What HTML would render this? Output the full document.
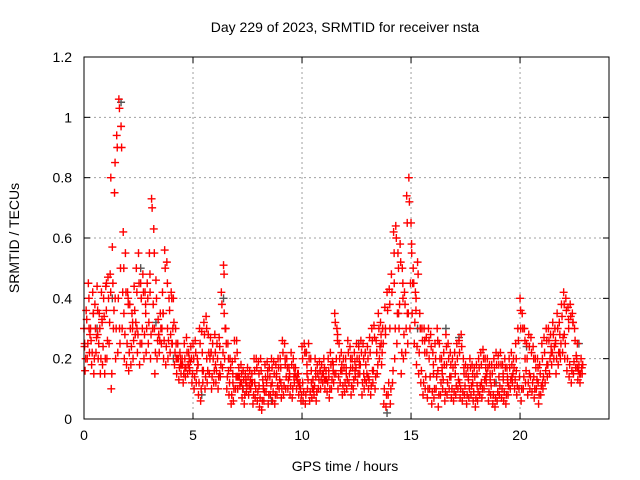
<!DOCTYPE html>
<html><head><meta charset="utf-8"><style>
body{margin:0;background:#fff;}
svg{display:block;font-family:"Liberation Sans",sans-serif;}
</style></head><body>
<svg id="chart" width="640" height="480">
<text x="345" y="32" font-size="14" text-anchor="middle">Day 229 of 2023, SRMTID for receiver nsta</text>
<text x="345" y="471" font-size="14" text-anchor="middle">GPS time / hours</text>
<text transform="translate(19,238) rotate(-90)" font-size="14" text-anchor="middle">SRMTID / TECUs</text>
<g id="grid"></g><g id="ticks"></g><g id="gray"></g><g id="red"></g>
<rect x="84" y="57" width="525" height="362" fill="none" stroke="#000" stroke-width="1"/>
</svg>
<script>
const xTicks=[0,5,10,15,20];
const yTicks=[0,0.2,0.4,0.6,0.8,1,1.2];
const yTickLabels=["0","0.2","0.4","0.6","0.8","1","1.2"];
const redA=[0.3,0.36,0.45,0.3,0.42,0.38,0.44,0.35,0.42,0.4,
0.44,0.47,0.48,0.57,0.75,0.94,1.06,0.97,0.62,0.55,
0.42,0.38,0.35,0.44,0.5,0.55,0.45,0.48,0.42,0.45,
0.55,0.73,0.63,0.46,0.33,0.35,0.42,0.56,0.52,0.4,
0.42,0.4,0.3,0.25,0.22,0.2,0.25,0.27,0.22,0.24,
0.25,0.26,0.2,0.3,0.29,0.32,0.34,0.28,0.27,0.25,
0.28,0.25,0.27,0.42,0.51,0.3,0.25,0.2,0.19,0.26,
0.26,0.17,0.18,0.16,0.15,0.17,0.16,0.15,0.2,0.2,
0.19,0.2,0.13,0.18,0.19,0.17,0.2,0.19,0.18,0.2,
0.2,0.26,0.25,0.2,0.17,0.22,0.2,0.17,0.15,0.12,
0.24,0.25,0.22,0.25,0.2,0.13,0.2,0.18,0.19,0.18,
0.2,0.16,0.2,0.22,0.19,0.35,0.3,0.25,0.22,0.2,
0.2,0.26,0.24,0.2,0.22,0.25,0.24,0.26,0.25,0.22,
0.24,0.27,0.3,0.31,0.26,0.35,0.32,0.3,0.37,0.42,
0.43,0.48,0.62,0.64,0.55,0.58,0.5,0.42,0.74,0.8,
0.65,0.5,0.42,0.52,0.35,0.3,0.3,0.27,0.3,0.28,
0.22,0.25,0.3,0.25,0.2,0.22,0.28,0.25,0.22,0.2,
0.22,0.25,0.26,0.28,0.2,0.18,0.17,0.2,0.18,0.17,
0.18,0.2,0.22,0.23,0.2,0.2,0.18,0.18,0.2,0.22,
0.21,0.22,0.18,0.2,0.17,0.2,0.22,0.2,0.25,0.3,
0.4,0.35,0.3,0.25,0.28,0.27,0.24,0.2,0.2,0.18,
0.25,0.27,0.3,0.3,0.28,0.32,0.3,0.35,0.32,0.38,
0.42,0.4,0.37,0.38,0.35,0.3,0.2,0.18,0.2];
const redB=[0.16,0.2,0.22,0.18,0.15,0.22,0.2,0.15,0.18,0.15,
0.2,0.25,0.1,0.3,0.2,0.22,0.25,0.3,0.2,0.18,
0.16,0.18,0.2,0.28,0.22,0.18,0.25,0.2,0.22,0.25,
0.2,0.3,0.15,0.2,0.22,0.25,0.2,0.18,0.2,0.22,
0.25,0.18,0.15,0.13,0.15,0.12,0.14,0.15,0.16,0.12,
0.1,0.12,0.08,0.06,0.12,0.1,0.12,0.15,0.1,0.12,
0.12,0.1,0.14,0.17,0.2,0.1,0.08,0.05,0.06,0.1,
0.1,0.11,0.07,0.05,0.09,0.08,0.1,0.05,0.07,0.06,
0.04,0.03,0.06,0.09,0.05,0.08,0.06,0.05,0.08,0.1,
0.07,0.08,0.1,0.1,0.08,0.07,0.12,0.1,0.08,0.06,
0.06,0.05,0.1,0.06,0.07,0.08,0.06,0.1,0.1,0.12,
0.1,0.09,0.07,0.1,0.12,0.15,0.1,0.12,0.08,0.09,
0.1,0.12,0.08,0.1,0.14,0.12,0.15,0.08,0.1,0.12,
0.1,0.08,0.12,0.1,0.15,0.2,0.18,0.05,0.04,0.08,
0.05,0.12,0.2,0.25,0.3,0.15,0.2,0.22,0.25,0.3,
0.35,0.25,0.18,0.15,0.12,0.08,0.1,0.07,0.1,0.05,
0.07,0.1,0.04,0.08,0.1,0.06,0.08,0.1,0.07,0.06,
0.08,0.1,0.07,0.06,0.08,0.05,0.07,0.08,0.06,0.04,
0.06,0.08,0.07,0.1,0.12,0.06,0.08,0.05,0.04,0.06,
0.08,0.07,0.06,0.05,0.08,0.1,0.12,0.1,0.08,0.1,
0.06,0.1,0.12,0.08,0.1,0.09,0.07,0.1,0.05,0.08,
0.1,0.12,0.14,0.15,0.18,0.2,0.15,0.18,0.2,0.22,
0.2,0.16,0.14,0.12,0.15,0.17,0.13,0.12,0.15];
const redC=[0.25,0.3,0.35,0.28,0.32,0.45,0.8,0.4,0.3,0.35,0.38,0.32,
0.3,0.4,0.35,0.42,0.3,0.28,0.35,0.3,0.25,0.2,0.18,0.17,
0.17,0.2,0.18,0.16,0.2,0.22,0.18,0.15,0.35,0.16,0.12,0.14,
0.12,0.13,0.1,0.12,0.11,0.1,0.14,0.12,0.15,0.12,0.18,0.15,
0.14,0.15,0.12,0.15,0.12,0.14,0.16,0.13,0.14,0.18,0.28,0.16,
0.15,0.17,0.16,0.18,0.15,0.14,0.16,0.22,0.25,0.28,0.3,0.45,
0.35,0.4,0.35,0.55,0.4,0.3,0.22,0.2,0.15,0.16,0.15,0.18,
0.14,0.15,0.12,0.15,0.13,0.12,0.11,0.12,0.14,0.13,0.12,0.14,
0.13,0.12,0.14,0.16,0.3,0.2,0.15,0.14,0.12,0.12,0.18,0.22,
0.25,0.22,0.28,0.3,0.32,0.25,0.17];
const redD=[0.24,0.33,0.4,0.26,0.35,0.3,0.36,0.3,0.33,0.34,
0.36,0.4,0.42,0.45,0.85,0.9,1.03,0.9,0.5,0.42,
0.4,0.3,0.3,0.36,0.42,0.45,0.4,0.42,0.38,0.4,
0.48,0.7,0.55,0.4,0.28,0.3,0.35,0.5,0.45,0.36,
0.4,0.32,0.25,0.2,0.2,0.18,0.2,0.22,0.2,0.2,
0.2,0.22,0.18,0.25,0.22,0.28,0.3,0.22,0.22,0.2,
0.22,0.2,0.24,0.38,0.48,0.25,0.2,0.17,0.15,0.2,
0.22,0.14,0.15,0.13,0.12,0.14,0.13,0.12,0.16,0.17,
0.15,0.16,0.11,0.14,0.16,0.14,0.17,0.15,0.14,0.17,
0.17,0.22,0.2,0.17,0.14,0.18,0.17,0.14,0.12,0.1,
0.2,0.22,0.18,0.2,0.16,0.1,0.16,0.15,0.16,0.15,
0.17,0.13,0.16,0.18,0.16,0.32,0.26,0.2,0.18,0.17,
0.17,0.22,0.2,0.17,0.19,0.2,0.2,0.22,0.2,0.18,
0.2,0.22,0.26,0.27,0.22,0.3,0.28,0.25,0.3,0.36,
0.38,0.42,0.55,0.6,0.5,0.52,0.45,0.38,0.65,0.72,
0.58,0.45,0.36,0.48,0.3,0.26,0.26,0.22,0.26,0.24,
0.18,0.2,0.26,0.2,0.17,0.18,0.24,0.2,0.18,0.17,
0.18,0.2,0.22,0.24,0.17,0.15,0.14,0.17,0.15,0.14,
0.15,0.17,0.18,0.2,0.17,0.17,0.15,0.15,0.17,0.18,
0.18,0.18,0.15,0.17,0.14,0.17,0.18,0.17,0.2,0.26,
0.36,0.3,0.26,0.2,0.24,0.22,0.2,0.17,0.17,0.15,
0.2,0.22,0.26,0.26,0.24,0.28,0.26,0.3,0.28,0.34,
0.38,0.36,0.33,0.34,0.32,0.26,0.17,0.15,0.17];
const redE=[0.2,0.25,0.28,0.22,0.2,0.27,0.25,0.2,0.24,0.2,
0.26,0.32,0.15,0.36,0.3,0.4,0.5,0.42,0.28,0.25,
0.22,0.24,0.26,0.32,0.28,0.25,0.3,0.28,0.3,0.32,
0.28,0.38,0.22,0.26,0.26,0.3,0.26,0.24,0.26,0.28,
0.3,0.22,0.2,0.17,0.18,0.15,0.17,0.18,0.19,0.15,
0.14,0.16,0.12,0.1,0.16,0.14,0.16,0.2,0.14,0.16,
0.16,0.14,0.18,0.22,0.3,0.14,0.12,0.08,0.1,0.14,
0.14,0.12,0.1,0.08,0.11,0.11,0.12,0.08,0.1,0.09,
0.07,0.06,0.09,0.12,0.08,0.11,0.09,0.08,0.11,0.13,
0.1,0.11,0.14,0.13,0.11,0.1,0.15,0.13,0.11,0.08,
0.09,0.08,0.13,0.09,0.1,0.11,0.09,0.13,0.13,0.15,
0.13,0.12,0.1,0.13,0.15,0.2,0.14,0.16,0.11,0.12,
0.13,0.15,0.11,0.13,0.17,0.15,0.18,0.12,0.13,0.15,
0.13,0.11,0.16,0.14,0.18,0.24,0.22,0.1,0.08,0.12,
0.1,0.16,0.3,0.35,0.38,0.22,0.28,0.3,0.35,0.45,
0.45,0.32,0.24,0.22,0.16,0.12,0.14,0.1,0.14,0.09,
0.1,0.14,0.08,0.12,0.13,0.09,0.12,0.14,0.1,0.09,
0.11,0.13,0.1,0.09,0.11,0.08,0.1,0.11,0.09,0.07,
0.09,0.11,0.1,0.13,0.15,0.09,0.11,0.08,0.07,0.09,
0.11,0.1,0.09,0.08,0.11,0.13,0.15,0.13,0.11,0.14,
0.1,0.14,0.16,0.12,0.14,0.12,0.1,0.13,0.08,0.11,
0.14,0.16,0.18,0.2,0.22,0.24,0.2,0.22,0.25,0.27,
0.25,0.2,0.18,0.16,0.19,0.21,0.16,0.15,0.18];
const grayT=[0.6,1.3,1.7,2.6,3.3,4.1,5.4,6.4,7.3,8.6,10.2,12.6,13.9,14.4,15.3,16.6,17.2,18.9,20.3,22.7];
const grayV=[0.3,0.4,1.05,0.5,0.32,0.2,0.08,0.4,0.1,0.06,0.22,0.25,0.02,0.35,0.3,0.3,0.27,0.12,0.24,0.25];

const X0=84,X1=609,Y0=419,Y1=57;
const xs=h=>X0+h*(X1-X0)/24.08;
const ys=v=>Y0-v*(Y0-Y1)/1.2;
const NS="http://www.w3.org/2000/svg";
function mk(tag,attrs,parent){const e=document.createElementNS(NS,tag);for(const k in attrs)e.setAttribute(k,attrs[k]);parent.appendChild(e);return e;}
const grid=document.getElementById('grid'),ticks=document.getElementById('ticks');
xTicks.forEach(t=>{const x=xs(t);
 if(t>0){const g=mk('line',{x1:x,x2:x,y1:Y0,y2:Y1,stroke:'#a0a0a0','stroke-dasharray':'2,3'},grid);
 
 }
 mk('line',{x1:x,x2:x,y1:Y0,y2:Y0-6,stroke:'#000'},ticks);
 mk('line',{x1:x,x2:x,y1:Y1,y2:Y1+6,stroke:'#000'},ticks);
 const l=mk('text',{x:x,y:Y0+21,'font-size':14,'text-anchor':'middle'},ticks);l.textContent=t;
 
 
});
yTicks.forEach((t,i)=>{const y=ys(t);
 if(t>0&&t<1.2){const g=mk('line',{x1:X0,x2:X1,y1:y,y2:y,stroke:'#a0a0a0','stroke-dasharray':'2,3'},grid);
 
 }
 mk('line',{x1:X0,x2:X0+6,y1:y,y2:y,stroke:'#000'},ticks);
 mk('line',{x1:X1,x2:X1-6,y1:y,y2:y,stroke:'#000'},ticks);
 const l=mk('text',{x:X0-12,y:y+5,'font-size':14,'text-anchor':'end'},ticks);l.textContent=yTickLabels[i];
 
 
});
function cross(g,h,v,col){const x=xs(h),y=ys(v);
 const p=mk('path',{d:`M${x-4},${y}h8M${x},${y-4}v8`,stroke:col,'stroke-width':1.4,fill:'none'},g);
 
 }
const gg=document.getElementById('gray'),rg=document.getElementById('red');
grayT.forEach((t,i)=>cross(gg,t,grayV[i],'#555'));
redA.forEach((v,i)=>cross(rg,i*0.1,v,'#ff0000'));
redB.forEach((v,i)=>cross(rg,i*0.1+0.05,v,'#ff0000'));
redC.forEach((v,i)=>cross(rg,i*0.2+0.03,v,'#ff0000'));
redD.forEach((v,i)=>cross(rg,i*0.1+0.025,v,'#ff0000'));
redE.forEach((v,i)=>cross(rg,i*0.1+0.075,v,'#ff0000'));
</script>
</body></html>
